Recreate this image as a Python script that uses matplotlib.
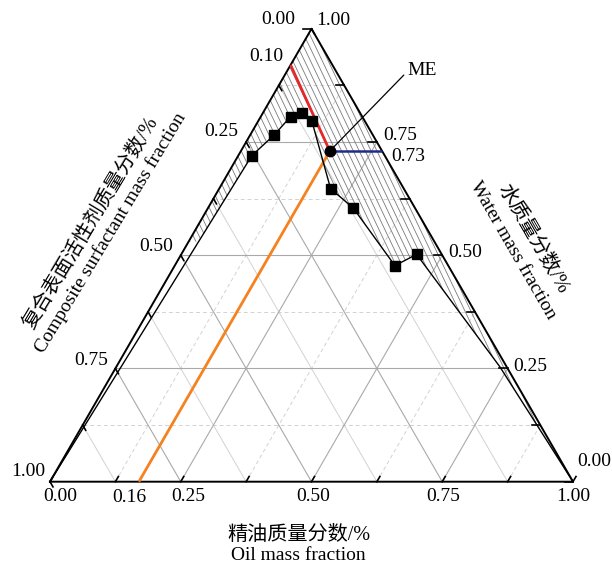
import numpy as np
import matplotlib
matplotlib.use("Agg")
import matplotlib.pyplot as plt
from matplotlib.patches import Polygon
from matplotlib.collections import LineCollection

# ---------------- data (mass fractions) ----------------
# measured boundary points (oil, water); surfactant = 1 - oil - water
curve_oil = [0.026, 0.046, 0.057, 0.075, 0.102, 0.213, 0.278, 0.421, 0.450]
curve_water = [0.720, 0.766, 0.806, 0.813, 0.797, 0.647, 0.604, 0.477, 0.502]
# unmarked parts of the boundary line
curve_start = (0.0, 0.0)          # pure surfactant corner
curve_tail_oil = [0.733, 1.0]
curve_tail_water = [0.254, 0.0]

# ME point
me_oil, me_water = 0.17, 0.73
me_surf = 0.10
red_end_water = 0.92            # construction line meets surfactant axis (oil = 0)
hatch_cut_water = 0.53          # lower limit of hatching on the surfactant side

tick_values = [0.0, 0.25, 0.50, 0.75, 1.0]
tick_labels = ["0.00", "0.25", "0.50", "0.75", "1.00"]
minor_values = [0.125, 0.375, 0.625, 0.875]

oil_title = ["精油质量分数/%", "Oil mass fraction"]
surf_title = ["复合表面活性剂质量分数/%", "Composite surfactant mass fraction"]
water_title = ["水质量分数/%", "Water mass fraction"]

# ---------------- helpers ----------------
S3 = np.sqrt(3) / 2


def xy(o, w):
    o = np.asarray(o, float)
    w = np.asarray(w, float)
    return o + w / 2, w * S3


W, H = 612, 567
PX = 523.0  # pixels per unit side
fig = plt.figure(figsize=(W / 100, H / 100), dpi=100)
ax = fig.add_axes([0, 0, 1, 1])
ax.set_xlim(-50 / PX, (W - 50) / PX)
ax.set_ylim(-85.3 / PX, (H - 85.3) / PX)
ax.axis("off")

serif = ["Liberation Serif", "DejaVu Serif"]
cjk = ["Liberation Serif", "Noto Sans CJK SC", "DejaVu Sans"]
NUM_FS = 14

# ---------------- grid ----------------
for v in minor_values + tick_values[1:-1]:
    major = v in tick_values
    col = "#a9a9a9" if major else "#d2d2d2"
    lw = 0.8 if major else 0.7
    ls_d = "-" if major else (0, (4, 3))
    # constant water (horizontal)
    X, Y = xy([0, 1 - v], [v, v])
    ax.plot(X, Y, color=col, lw=lw, ls=ls_d, zorder=1)
    # constant oil
    X, Y = xy([v, v], [0, 1 - v])
    ax.plot(X, Y, color=col, lw=lw, ls=ls_d, zorder=1)
    # constant surfactant
    X, Y = xy([0, 1 - v], [1 - v, 0])
    ax.plot(X, Y, color=col, lw=lw, ls="-", zorder=1)

# ---------------- hatched region ----------------
o1, w1 = curve_oil[0], curve_water[0]
o_cut = curve_start[0] + (o1 - curve_start[0]) * (hatch_cut_water - curve_start[1]) / (w1 - curve_start[1])
poly_o = [0.0, o_cut] + curve_oil + curve_tail_oil + [0.0]
poly_w = [hatch_cut_water, hatch_cut_water] + curve_water + curve_tail_water + [1.0]
PXs, PYs = xy(poly_o, poly_w)
patch = Polygon(np.column_stack([PXs, PYs]), closed=True, fill=False,
                edgecolor="none", zorder=0)
ax.add_patch(patch)

k = 0.476
meX, meY = xy(me_oil, me_water)
c0 = float(meX + k * meY)
step = 5.9 / PX
segs = []
for i in range(-250, 250):
    c = c0 + i * step
    segs.append([(c, 0.0), (c - k * 1.0, 1.0)])
lc = LineCollection(segs, colors="#7a7a7a", linewidths=0.6, zorder=2)
ax.add_collection(lc)
lc.set_clip_path(patch)

# ---------------- triangle frame ----------------
TX, TY = xy([0, 1, 0, 0], [0, 0, 1, 0])
ax.plot(TX, TY, color="black", lw=1.4, zorder=5, solid_joinstyle="miter")

# ticks
tl_major = 6 / PX
for v in minor_values + tick_values:
    # oil axis (bottom): along constant-oil direction
    x0, y0 = xy(v, 0)
    ax.plot([x0, x0 + 0.5 * tl_major], [y0, y0 + S3 * tl_major], color="black", lw=1.2, zorder=5)
    # water axis (right): horizontal, inward
    x0, y0 = xy(1 - v, v)
    ax.plot([x0, x0 - 1.4 * tl_major], [y0, y0], color="black", lw=1.2, zorder=5)
    # surfactant axis (left): along constant-surfactant direction
    x0, y0 = xy(0, 1 - v)
    ax.plot([x0, x0 + 0.5 * tl_major], [y0, y0 - S3 * tl_major], color="black", lw=1.2, zorder=5)

# tick labels
bottom_nudge = {0.0: 10, 0.25: 7, 0.5: 1.5, 0.75: 1, 1.0: 0}
for v, lab in zip(tick_values, tick_labels):
    x0, y0 = xy(v, 0)
    ax.annotate(lab, (x0, y0), xytext=(bottom_nudge[v], -15), textcoords="offset pixels",
                ha="center", va="center", fontsize=NUM_FS, family=serif)

right_nudge = {0.0: (4, 20), 0.25: (6, 2), 0.5: (6, 2.5), 0.75: (6, 7), 1.0: (5, 8)}
for v, lab in zip(tick_values, tick_labels):
    x0, y0 = xy(1 - v, v)
    dx, dy = right_nudge[v]
    ax.annotate(lab, (x0, y0), xytext=(dx, dy), textcoords="offset pixels",
                ha="left", va="center", fontsize=NUM_FS, family=serif)

left_nudge = {0.0: (-16.5, 9), 0.25: (-7.5, 11), 0.5: (-7.5, 8.5), 0.75: (-7, 8.4), 1.0: (-5, 10)}
for v, lab in zip(tick_values, tick_labels):
    x0, y0 = xy(0, 1 - v)
    dx, dy = left_nudge[v]
    ax.annotate(lab, (x0, y0), xytext=(dx, dy), textcoords="offset pixels",
                ha="right", va="center", fontsize=NUM_FS, family=serif)

# ---------------- construction lines for ME ----------------
rX, rY = xy([0, me_oil], [red_end_water, me_water])
ax.plot(rX, rY, color="#e8262a", lw=2.0, zorder=6, solid_capstyle="butt")
oX, oY = xy([me_oil, me_oil], [0, me_water])
ax.plot(oX, oY, color="#f5811f", lw=2.0, zorder=6, solid_capstyle="butt")
bX, bY = xy([me_oil, 1 - me_water], [me_water, me_water])
ax.plot(bX, bY, color="#1f2d8a", lw=1.8, zorder=6, solid_capstyle="butt")

ax.annotate(f"{me_surf:.2f}", (rX[0], rY[0]), xytext=(-7.5, 9), textcoords="offset pixels",
            ha="right", va="center", fontsize=NUM_FS, family=serif)
ax.annotate(f"{me_oil - 0.01:.2f}", (oX[0], oY[0]), xytext=(-10, -16), textcoords="offset pixels",
            ha="center", va="center", fontsize=NUM_FS, family=serif)
ax.annotate(f"{me_water:.2f}", (bX[1], bY[1]), xytext=(9, -5), textcoords="offset pixels",
            ha="left", va="center", fontsize=NUM_FS, family=serif)

# ---------------- boundary curve ----------------
line_o = [curve_start[0]] + curve_oil + curve_tail_oil
line_w = [curve_start[1]] + curve_water + curve_tail_water
lX, lY = xy(line_o, line_w)
ax.plot(lX, lY, color="black", lw=1.0, zorder=7)
mX, mY = xy(curve_oil, curve_water)
ax.plot(mX, mY, ls="none", marker="s", ms=7, color="black", zorder=8)

# ME point
ax.plot([meX], [meY], marker="o", ms=7.5, color="black", zorder=9)
ax.annotate("", (meX, meY), xytext=(74, 76), textcoords="offset pixels",
            arrowprops=dict(arrowstyle="-", lw=0.9, color="black", shrinkA=0, shrinkB=0), zorder=9)
ax.annotate("ME", (meX, meY), xytext=(92, 81), textcoords="offset pixels",
            ha="center", va="center", fontsize=NUM_FS, family=serif)

# ---------------- axis titles ----------------
def ftext(px, py, s, fs, rot=0):
    fig.text(px / W, 1 - py / H, s, fontsize=fs, family=cjk, rotation=rot,
             rotation_mode="anchor", ha="center", va="center")

ftext(299, 535, oil_title[0], 14.5)
ftext(298, 556, oil_title[1], 14)
ftext(91.7, 223, surf_title[0], 14.5, 59)
ftext(111, 233, surf_title[1], 14, 59)
ftext(533, 239, water_title[0], 14.5, -60)
ftext(513, 250, water_title[1], 14, -60)

fig.savefig("out.png", dpi=100)
